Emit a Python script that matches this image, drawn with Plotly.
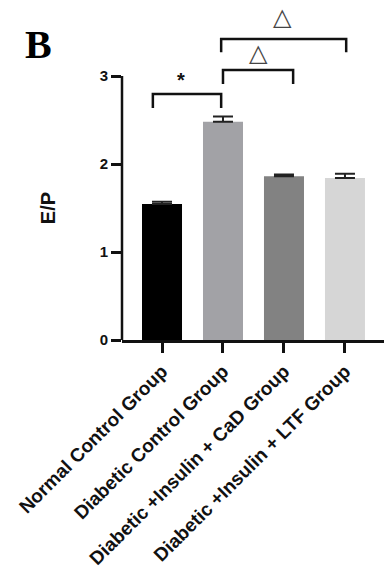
import plotly.graph_objects as go

categories = ["Normal Control Group", "Diabetic Control Group",
              "Diabetic +Insulin + CaD Group", "Diabetic +Insulin + LTF Group"]
values = [1.545, 2.48, 1.86, 1.84]
errors = [0.025, 0.06, 0.02, 0.05]
colors = ["#000000", "#a2a2a6", "#828282", "#d6d6d6"]
y_ticks = [0, 1, 2, 3]

# significance brackets: (x_left, x_right, y_top, y_leg_bottom, label, label_x, label_y)
brackets = [
    (-0.15, 0.97, 2.795, 2.636, "*", 0.31, 2.95),
    (1.0, 2.15, 3.068, 2.909, "△", 1.59, 3.26),
    (0.97, 3.02, 3.42, 3.27, "△", 1.98, 3.67),
]

xpos = list(range(len(categories)))

fig = go.Figure()
fig.add_trace(go.Bar(
    x=xpos, y=values, width=0.656,
    marker=dict(color=colors, line=dict(width=0)),
    error_y=dict(type="data", array=errors, arrayminus=[0] * len(errors),
                 symmetric=False, thickness=2, width=10, color="#222222"),
))

ytick_font = dict(family="Liberation Sans, Arial, sans-serif", size=15, color="#111111", weight="bold")
xtick_font = dict(family="Liberation Sans, Arial, sans-serif", size=19, color="#111111", weight="bold")

fig.update_layout(
    width=384, height=572,
    margin=dict(l=122, r=0, t=0, b=232),
    paper_bgcolor="white", plot_bgcolor="white",
    showlegend=False,
    xaxis=dict(range=[-0.656, 3.64], tickvals=xpos, ticktext=categories,
               tickangle=-45, showline=True, linecolor="#111111", linewidth=2.5,
               ticks="outside", ticklen=10, tickwidth=2.5, tickcolor="#111111",
               showgrid=False, zeroline=False, tickfont=xtick_font, automargin=False),
    yaxis=dict(range=[0, 3.864], tickvals=y_ticks, showline=False,
               ticks="outside", ticklen=10, tickwidth=2.5, tickcolor="#111111",
               showgrid=False, zeroline=False, tickfont=ytick_font, automargin=False),
)

shapes = [dict(type="line", xref="paper", yref="y", x0=0, x1=0, y0=0, y1=3,
               line=dict(color="#111111", width=2.5))]
annotations = []
for xl, xr, yt, yb, lab, lx, ly in brackets:
    shapes.append(dict(type="path", xref="x", yref="y",
                       path=f"M {xl},{yb} L {xl},{yt} L {xr},{yt} L {xr},{yb}",
                       line=dict(color="#111111", width=2.5)))
    if lab == "*":
        f = dict(family="Liberation Sans, Arial", size=20, color="#111111", weight="bold")
    else:
        f = dict(family="DejaVu Sans", size=24, color="#444444")
    annotations.append(dict(x=lx, y=ly, xref="x", yref="y", text=lab, showarrow=False,
                            font=f, xanchor="center", yanchor="middle"))

annotations.append(dict(x=-0.32, y=0.868, xref="paper", yref="paper", text="B", showarrow=False,
                        font=dict(family="Liberation Serif, Times New Roman, serif", size=40,
                                  color="#000000", weight="bold"),
                        xanchor="center", yanchor="middle"))
annotations.append(dict(x=-0.282, y=0.388, xref="paper", yref="paper", text="E/P", showarrow=False,
                        textangle=-90,
                        font=dict(family="Liberation Sans, Arial", size=20, color="#111111", weight="bold"),
                        xanchor="center", yanchor="middle"))

fig.update_layout(shapes=shapes, annotations=annotations)
fig.write_html("out.html", config={"displayModeBar": False},
               post_script="document.body.style.margin='0px';")
